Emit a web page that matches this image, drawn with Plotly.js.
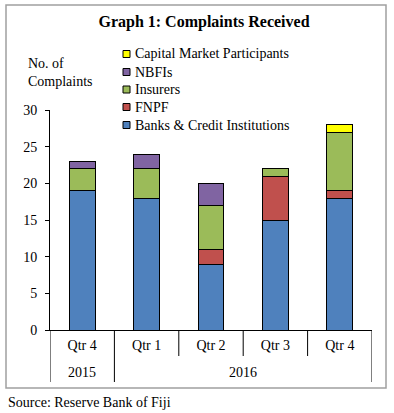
<!DOCTYPE html>
<html>
<head>
<meta charset="utf-8">
<script src="https://cdn.plot.ly/plotly-3.0.1.min.js"></script>
<style>html,body{margin:0;padding:0;background:#fff;}</style>
</head>
<body>
<div id="chart" style="width:394px;height:413px;"></div>
<script>
// ---- data ----
const quarters = ["Qtr 4", "Qtr 1", "Qtr 2", "Qtr 3", "Qtr 4"];
const years = ["2015", "2016", "2016", "2016", "2016"];
const seriesNames = ["Banks & Credit Institutions", "FNPF", "Insurers", "NBFIs", "Capital Market Participants"];
const banks = [19, 18, 9, 15, 18];
const fnpf = [0, 0, 2, 6, 1];
const insurers = [3, 4, 6, 1, 8];
const nbfis = [1, 2, 3, 0, 0];
const capitalMarket = [0, 0, 0, 0, 1];
const seriesColors = ["#4F81BD", "#C0504D", "#9BBB59", "#8064A2", "#FFFF00"];
const yTicks = [0, 5, 10, 15, 20, 25, 30];

// ---- layout helpers (pixel -> paper) ----
const W = 394, H = 413;
const mL = 50, mR = 22, mT = 110, mB = 83;
const pw = W - mL - mR, ph = H - mT - mB;
const px = x => (x - mL) / pw;
const py = y => (H - mB - y) / ph;
const FONT = "Liberation Serif, Times New Roman, serif";

const xIdx = quarters.map((_, i) => i);
const allSeries = [banks, fnpf, insurers, nbfis, capitalMarket];

const traces = allSeries.map((vals, k) => ({
  type: "bar",
  name: seriesNames[k],
  x: xIdx,
  y: vals,
  marker: {color: seriesColors[k], line: {color: "#000", width: 1}},
  width: 0.4,
  showlegend: false,
  hoverinfo: "skip"
}));

const shapes = [];
const annotations = [];

// outer frame
shapes.push({type: "rect", xref: "paper", yref: "paper",
  x0: px(6), x1: px(386), y0: py(388), y1: py(5),
  line: {color: "#A0A0A0", width: 1.5}, layer: "below"});

// category dividers under the axis
for (let i = 0; i <= quarters.length; i++) {
  const b = i - 0.5;
  const isYearBoundary = (i === 0 || i === quarters.length || years[i] !== years[i - 1]);
  shapes.push({type: "line", xref: "x", yref: "paper",
    x0: b, x1: b, ysizemode: "pixel", yanchor: 0, y0: 0, y1: isYearBoundary ? -52 : -26,
    line: {color: "#000", width: 1}});
}

// year labels
const yearGroups = [];
years.forEach((y, i) => {
  const g = yearGroups[yearGroups.length - 1];
  if (g && g.year === y) g.end = i; else yearGroups.push({year: y, start: i, end: i});
});
yearGroups.forEach(g => annotations.push({
  xref: "x", yref: "paper", x: (g.start + g.end) / 2, y: 0, yshift: -42,
  xanchor: "center", yanchor: "middle", showarrow: false, text: g.year,
  font: {family: FONT, size: 14, color: "#000"}
}));

// custom legend (top to bottom: reversed series order)
const legendRowsY = [54, 72, 89.5, 107, 125];
for (let r = 0; r < seriesNames.length; r++) {
  const k = seriesNames.length - 1 - r;
  const cy = legendRowsY[r];
  shapes.push({type: "rect", xref: "paper", yref: "paper",
    x0: px(123), x1: px(130), y0: py(cy + 3.5), y1: py(cy - 3.5),
    fillcolor: seriesColors[k], line: {color: "#000", width: 1}});
  annotations.push({xref: "paper", yref: "paper", x: px(133), y: py(cy),
    xanchor: "left", yanchor: "middle", showarrow: false, text: seriesNames[k],
    font: {family: FONT, size: 14, color: "#000"}});
}

// y-axis caption
annotations.push({xref: "paper", yref: "paper", x: px(26), y: py(72.5),
  xanchor: "left", yanchor: "middle", align: "left", showarrow: false,
  text: "No. of<br>Complaints", font: {family: FONT, size: 14, color: "#000"}});

// source
annotations.push({xref: "paper", yref: "paper", x: px(6), y: py(402),
  xanchor: "left", yanchor: "middle", showarrow: false,
  text: "Source: Reserve Bank of Fiji", font: {family: FONT, size: 14, color: "#000"}});

const layout = {
  width: W, height: H,
  margin: {l: mL, r: mR, t: mT, b: mB, pad: 0},
  paper_bgcolor: "#fff", plot_bgcolor: "#fff",
  barmode: "stack",
  title: {text: "<b>Graph 1: Complaints Received</b>", xref: "container", yref: "container",
    x: 204 / W, y: 1 - 21 / H, xanchor: "center", yanchor: "middle",
    font: {family: FONT, size: 16, color: "#000"}},
  xaxis: {type: "linear", range: [-0.5, quarters.length - 0.5], tickmode: "array",
    tickvals: xIdx, ticktext: quarters, showline: true, linecolor: "#000", linewidth: 1,
    ticks: "", showgrid: false, zeroline: false, ticklabelstandoff: 2,
    tickfont: {family: FONT, size: 14, color: "#000"}, fixedrange: true},
  yaxis: {range: [0, 30], tickmode: "array", tickvals: yTicks, showline: true,
    linecolor: "#000", linewidth: 1, ticks: "outside", ticklen: 4, tickcolor: "#000",
    ticklabelstandoff: 5,
    showgrid: false, zeroline: false, tickfont: {family: FONT, size: 14, color: "#000"},
    fixedrange: true},
  shapes: shapes,
  annotations: annotations,
  showlegend: false
};

Plotly.newPlot("chart", traces, layout, {staticPlot: true, displayModeBar: false});
</script>
</body>
</html>
